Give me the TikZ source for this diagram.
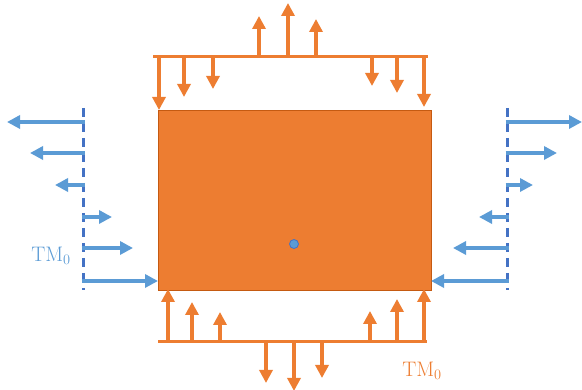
\documentclass[tikz,border=0pt]{standalone}
\usetikzlibrary{arrows.meta}
\definecolor{org}{HTML}{ED7D31}
\definecolor{orgd}{HTML}{C55A11}
\definecolor{blu}{HTML}{5B9BD5}
\definecolor{blud}{HTML}{4472C4}
\tikzset{
  oline/.style={draw=org,line width=3pt},
  oarr/.style={draw=org,line width=3.5pt,-{Triangle[width=13pt,length=13pt]}},
  barr/.style={draw=blu,line width=3.5pt,-{Triangle[width=13pt,length=13pt]}},
  dline/.style={draw=blud,line width=3pt,dash pattern=on 9pt off 6pt},
  lbl/.style={font=\fontsize{21}{23}\selectfont,inner sep=0pt}
}
\begin{document}
\begin{tikzpicture}[x=1pt,y=-1pt]
\useasboundingbox (0,0) rectangle (582,390);
% body
\node[draw=orgd,fill=org,line width=0.8pt,minimum width=273pt,minimum height=180pt,inner sep=0pt,anchor=north west] (body) at (158,110) {};
\node[circle,draw=blud,fill=blu,line width=0.8pt,minimum size=9pt,inner sep=0pt] (dot) at (294,244) {};
% top load
\draw[oline] (153,57) -- (428,57);
\foreach \x/\t in {159/110,184/97,213/89,372/86,397/93,424/107}
  \draw[oarr] (\x,56) -- (\x,\t);
\foreach \x/\t in {259/16,288/3,316/19}
  \draw[oarr] (\x,58) -- (\x,\t);
% bottom load
\draw[oline] (158,342) -- (427,342);
\foreach \x/\t in {168/289,192/302,220/312,370/311,397/299,424/289}
  \draw[oarr] (\x,343) -- (\x,\t);
\foreach \x/\t in {266/383,294/391,322/378}
  \draw[oarr] (\x,341) -- (\x,\t);
% left
\draw[dline] (83,108) -- (83,290);
\foreach \y/\t in {122/7,153/30,185/55}
  \draw[barr] (84.5,\y) -- (\t,\y);
\foreach \y/\t in {217/112,248/133,281/158}
  \draw[barr] (81.5,\y) -- (\t,\y);
% right
\draw[dline] (507,108) -- (507,290);
\foreach \y/\t in {122/582,153/557,185/533}
  \draw[barr] (505.5,\y) -- (\t,\y);
\foreach \y/\t in {217/479,248/453,281/431}
  \draw[barr] (508.5,\y) -- (\t,\y);
% labels
\node[lbl,text=blu] (tml) at (51,256) {TM$_0$};
\node[lbl,text=org] (tmb) at (422,371) {TM$_0$};
\end{tikzpicture}
\end{document}
